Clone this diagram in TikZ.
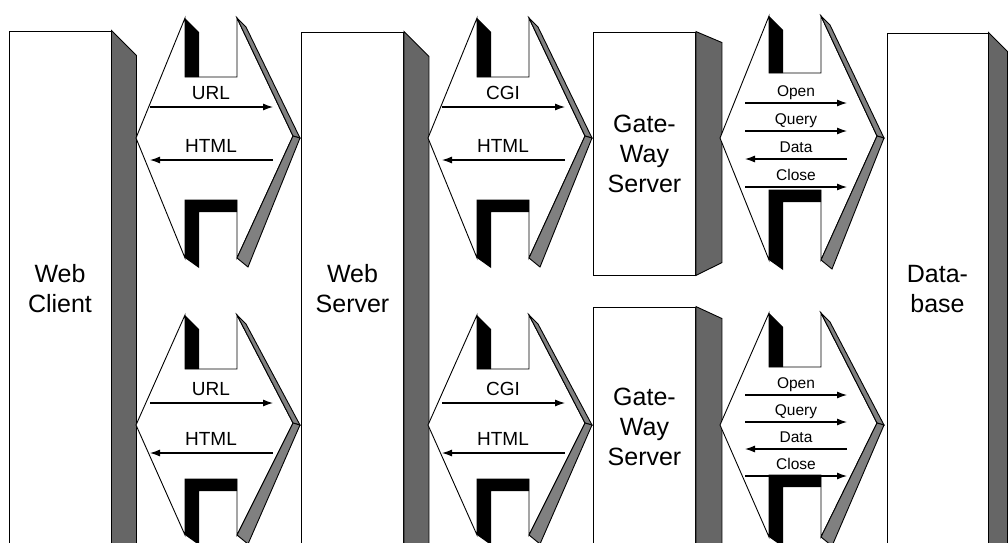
\documentclass[tikz,border=0pt]{standalone}
\usepackage{fontspec}
\setmainfont{Liberation Sans}
\usetikzlibrary{arrows.meta}

\tikzset{
  front/.style={draw, fill=white, minimum width=102pt, inner sep=0pt,
    align=center, font=\fontsize{25}{30}\selectfont},
  side/.style={draw, fill=black!60},
  band/.style={draw, fill=black!50},
  bar/.style={fill=black},
  msg/.style={font=\fontsize{19}{19}\selectfont, anchor=base, inner sep=0pt},
  smsg/.style={font=\fontsize{15.5}{15.5}\selectfont, anchor=base, inner sep=0pt},
  arr/.style={-{Latex[length=10pt,width=7pt]}, line width=1.1pt},
  % #1 half height, #2 depth of upper notch, #3 top of lower notch
  pics/plug/.style n args={3}{code={
    \draw[fill=white] (0,0) -- (49,-#1) -- (49,-#2) -- (101,-#2) -- (101,-#1)
      -- (157,-2) -- (101,#1) -- (101,#3) -- (49,#3) -- (49,#1) -- cycle;
    \fill[bar] (49,-#1) -- (63,-#1+14) -- (63,-#2) -- (49,-#2) -- cycle;
    \fill[bar] (49,#3) -- (101,#3) -- (101,#3+12) -- (63,#3+12) -- (63,#1+10)
      -- (49,#1) -- cycle;
    \filldraw[band] (101,-#1) -- (110,-#1+9) -- (164,0) -- (157,-2) -- cycle;
    \filldraw[band] (157,-2) -- (164,0) -- (112,#1+9) -- (101,#1) -- cycle;
  }}
}

\begin{document}
\begin{tikzpicture}[x=1pt,y=-1pt,line width=0.9pt]
  \useasboundingbox (0,0) rectangle (1008,542);
  \clip (0,0) rectangle (1008,542);
  \fill[white] (0,0) rectangle (1008,542);

  % servers
  \node[front, minimum height=515pt] (client) at (60,288.5) {Web\\Client};
  \node[front, minimum height=514pt] (websrv) at (352.5,289) {Web\\Server};
  \node[front, minimum height=243pt] (gw1) at (644.5,153.5) {Gate-\\Way\\Server};
  \node[front, minimum height=239pt] (gw2) at (644.5,426.5) {Gate-\\Way\\Server};
  \node[front, minimum width=101pt, minimum height=513pt] (db) at (937.5,289.5) {Data-\\base};

  \filldraw[side] (client.north east) -- ++(25,25) -- ++(0,520) -- (client.south east) -- cycle;
  \filldraw[side] (websrv.north east) -- ++(25,25) -- ++(0,520) -- (websrv.south east) -- cycle;
  \filldraw[side] (gw1.north east) -- ++(26,11) -- ++(0,220) -- (gw1.south east) -- cycle;
  \filldraw[side] (gw2.north east) -- ++(26,12) -- ++(0,300) -- (gw2.south east) -- cycle;
  \filldraw[side] (db.north east) -- ++(19,19) -- ++(0,520) -- (db.south east) -- cycle;

  % links
  \pic (p1) at (136,138) {plug={120}{61}{62}};
  \pic (p2) at (428,138) {plug={120}{61}{62}};
  \pic (p3) at (720,138) {plug={122}{65}{52}};
  \pic (p4) at (136,425) {plug={110}{56}{54}};
  \pic (p5) at (428,425) {plug={110}{56}{54}};
  \pic (p6) at (720,425) {plug={112}{58}{50}};

  % messages
  \foreach \px/\up/\ya/\yb in {136/URL/107/160, 428/CGI/107/160,
                               136/URL/403/453, 428/CGI/403/453} {
    \node[msg] (m\px-\ya) at (\px+75,\ya-8) {\up};
    \node[msg] (m\px-\yb) at (\px+75,\yb-8) {HTML};
    \draw[arr] (\px+14,\ya) -- (\px+137,\ya);
    \draw[arr] (\px+137,\yb) -- (\px+14,\yb);
  }
  \foreach \t/\y/\s/\e in {Open/103/745/847, Query/131/745/847,
                           Data/159/847/745, Close/187/745/847,
                           Open/395/745/847, Query/422/745/847,
                           Data/449/847/745, Close/476/745/847} {
    \node[smsg] (q\y) at (796,\y-7) {\t};
    \draw[arr] (\s,\y) -- (\e,\y);
  }
\end{tikzpicture}
\end{document}
